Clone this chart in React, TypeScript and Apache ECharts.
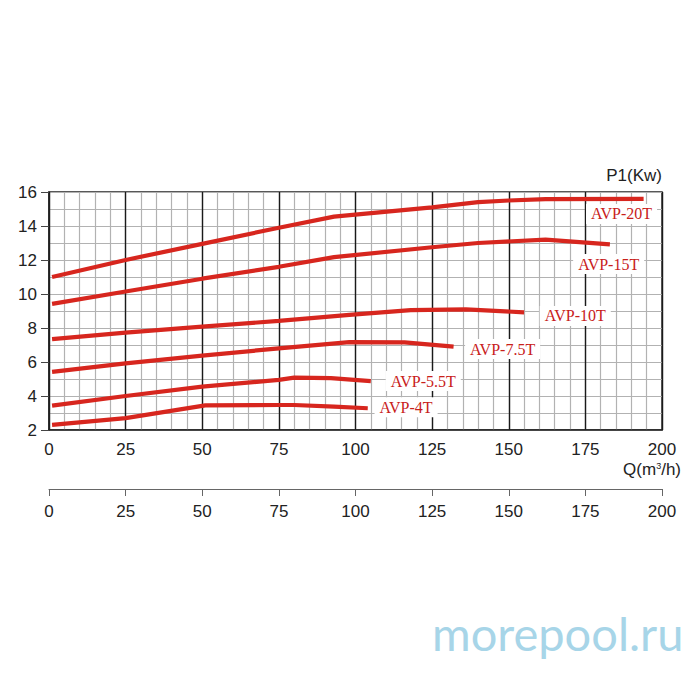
import { useRef, useEffect } from 'react'
import * as echarts from 'echarts'

// ── data ────────────────────────────────────────────────────────
const models = ['AVP-20T', 'AVP-15T', 'AVP-10T', 'AVP-7.5T', 'AVP-5.5T', 'AVP-4T']

const q20 = [1, 25, 50, 75, 93, 125, 140, 150, 162, 194]
const p20 = [11.0, 12.0, 12.95, 13.9, 14.55, 15.1, 15.4, 15.5, 15.58, 15.6]

const q15 = [1, 25, 50, 75, 93, 125, 140, 162, 183]
const p15 = [9.42, 10.15, 10.9, 11.6, 12.17, 12.75, 13.0, 13.2, 12.92]

const q10 = [1, 25, 50, 75, 98, 118, 136, 155]
const p10 = [7.35, 7.73, 8.08, 8.42, 8.77, 9.05, 9.1, 8.92]

const q75 = [1, 25, 50, 75, 98, 116, 132]
const p75 = [5.42, 5.92, 6.38, 6.8, 7.17, 7.15, 6.9]

const q55 = [1, 25, 50, 75, 80, 92, 105]
const p55 = [3.43, 4.0, 4.55, 4.95, 5.08, 5.05, 4.88]

const q4 = [1, 25, 51, 75, 80, 93, 104]
const p4 = [2.3, 2.7, 3.45, 3.47, 3.47, 3.37, 3.28]

// label anchor (Q, P) for each model name
const labelQ = [186.8, 182.6, 171.7, 148.0, 122.1, 116.5]
const labelP = [14.71, 11.76, 8.71, 6.76, 4.88, 3.34]

const curves = [[q20, p20], [q15, p15], [q10, p10], [q75, p75], [q55, p55], [q4, p4]]

const RED = '#d7261e'
const LABEL_RED = '#c8201a'
const AXIS_FONT = 'Liberation Sans, Arial, sans-serif'

function buildOption(): echarts.EChartsOption {
  return {
    animation: false,
    backgroundColor: '#fff',
    title: [
      {
        text: 'P1(Kw)',
        right: 38, top: 167, padding: 0,
        textStyle: { fontFamily: AXIS_FONT, fontSize: 17, fontWeight: 'normal', color: '#222' },
      },
      {
        text: 'Q(m{s|3}/h)',
        right: 19, top: 461, padding: 0,
        textStyle: {
          fontFamily: AXIS_FONT, fontSize: 17, fontWeight: 'normal', color: '#222',
          rich: { s: { fontSize: 9, verticalAlign: 'top', padding: [0, 0, 8, 0], fontFamily: AXIS_FONT, color: '#222' } },
        },
      },
    ],
    grid: [
      { left: 49, right: 38, top: 192, height: 238, show: true, borderColor: '#222', borderWidth: 1.5 },
      { left: 49, right: 38, top: 488, height: 1 },
    ],
    xAxis: [
      {
        type: 'value', gridIndex: 0, min: 0, max: 200, interval: 25, z: 2,
        axisLine: { show: true, lineStyle: { color: '#222', width: 1.5 } },
        axisTick: { show: false },
        axisLabel: { color: '#222', fontSize: 17, fontFamily: AXIS_FONT, margin: 11 },
        splitLine: { show: true, lineStyle: { color: '#1a1a1a', width: 1.4 } },
      },
      {
        type: 'value', gridIndex: 0, min: 0, max: 200, interval: 5, z: 0,
        axisLine: { show: false }, axisTick: { show: false }, axisLabel: { show: false },
        splitLine: { show: true, lineStyle: { color: '#b2b2b2', width: 1.2 } },
      },
      {
        type: 'value', gridIndex: 1, min: 0, max: 200, interval: 25, position: 'bottom',
        axisLine: { show: true, lineStyle: { color: '#666', width: 1 } },
        axisTick: { show: true, length: 7, lineStyle: { color: '#666' } },
        axisLabel: { color: '#222', fontSize: 17, fontFamily: AXIS_FONT, margin: 14 },
        splitLine: { show: false },
      },
    ],
    yAxis: [
      {
        type: 'value', gridIndex: 0, min: 2, max: 16, interval: 2, z: 2,
        axisLine: { show: true, lineStyle: { color: '#222', width: 1.5 } },
        axisTick: { show: true, length: 8, lineStyle: { color: '#444' } },
        axisLabel: { color: '#222', fontSize: 17, fontFamily: AXIS_FONT, margin: 12 },
        splitLine: { show: false },
      },
      {
        type: 'value', gridIndex: 0, min: 2, max: 16, interval: 1, z: 0,
        axisLine: { show: false }, axisTick: { show: false }, axisLabel: { show: false },
        splitLine: { show: true, lineStyle: { color: '#b2b2b2', width: 1.2 } },
      },
      { type: 'value', gridIndex: 1, min: 0, max: 1, show: false },
    ],
    graphic: [
      {
        type: 'text', left: 432, top: 609,
        style: { text: 'morepool.ru', fontSize: 47, fontFamily: 'Lato, Noto Sans, sans-serif', fill: '#a7d5e8' },
      },
    ],
    series: curves.map(([q, p], i) => ({
      name: models[i],
      type: 'line',
      xAxisIndex: 0, yAxisIndex: 0,
      data: q.map((x, j) => [x, p[j]]),
      symbol: 'none',
      z: 5,
      lineStyle: { color: RED, width: 4.2 },
      markPoint: {
        symbol: 'rect', symbolSize: 0,
        data: [{ coord: [labelQ[i], labelP[i]], value: models[i] }],
        label: {
          show: true, position: 'inside', formatter: models[i],
          color: LABEL_RED, fontSize: 16, fontFamily: 'Liberation Serif, Times New Roman, serif',
          backgroundColor: '#fff', padding: [2, 5],
        },
      },
    })),
  } as echarts.EChartsOption
}

export default function App() {
  const ref = useRef<HTMLDivElement>(null)

  useEffect(() => {
    document.body.style.margin = '0'
    if (!ref.current) return
    const chart = echarts.init(ref.current, undefined, { renderer: 'svg' })
    chart.setOption(buildOption())
    return () => chart.dispose()
  }, [])

  return <div ref={ref} style={{ width: 700, height: 700 }} />
}
